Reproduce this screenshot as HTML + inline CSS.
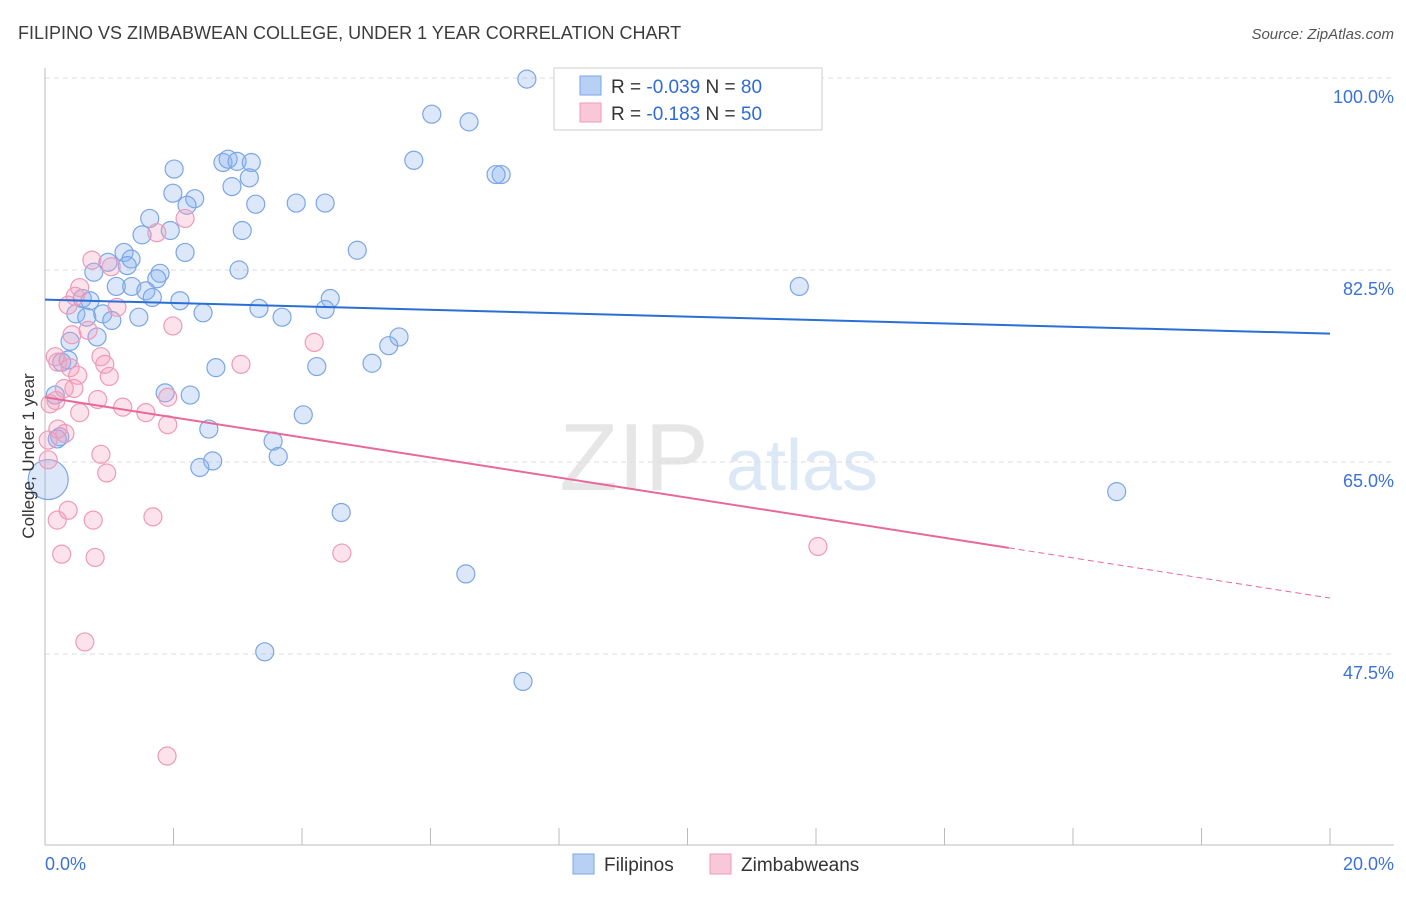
<!DOCTYPE html>
<html><head><meta charset="utf-8"><style>
body{margin:0;background:#fff;font-family:"Liberation Sans",sans-serif}
svg text{font-family:"Liberation Sans",sans-serif}
</style></head><body>
<svg id="chart" width="1406" height="892" viewBox="0 0 1406 892" xmlns="http://www.w3.org/2000/svg">
<text x="18" y="39" font-size="18" fill="#3c3c3c">FILIPINO VS ZIMBABWEAN COLLEGE, UNDER 1 YEAR CORRELATION CHART</text>
<text x="1394" y="39" font-size="15" fill="#555" text-anchor="end" font-style="italic">Source: ZipAtlas.com</text>
<g>
<text x="634" y="490" font-size="96" fill="#e6e6e6" text-anchor="middle" font-family="Liberation Serif,serif">ZIP</text>
<text x="802" y="490" font-size="72" fill="#dce8f6" text-anchor="middle">atlas</text>
</g>
<g id="grid"></g>
<g id="axes"></g>
<g id="marks"></g>
<text transform="translate(34,456) rotate(-90)" font-size="17" fill="#333" text-anchor="middle">College, Under 1 year</text>
<g>
<rect x="554" y="68" width="268" height="62" fill="#fff" stroke="#ccc"/>
<rect x="580" y="76" width="21" height="19" fill="#b8d0f4" stroke="#7aa6e6"/>
<rect x="580" y="103" width="21" height="19" fill="#f9c8d8" stroke="#ee9ab8"/>
<text x="611" y="93" font-size="19" fill="#333">R = <tspan fill="#2f6bd6">-0.039</tspan>   N = <tspan fill="#2f6bd6">80</tspan></text>
<text x="611" y="120" font-size="19" fill="#333">R =  <tspan fill="#2f6bd6">-0.183</tspan>   N = <tspan fill="#2f6bd6">50</tspan></text>
</g>
<g>
<rect x="573" y="854" width="21" height="20" fill="#b8d0f4" stroke="#7aa6e6"/>
<text x="604" y="871" font-size="19" fill="#333">Filipinos</text>
<rect x="710" y="854" width="21" height="20" fill="#f9c8d8" stroke="#ee9ab8"/>
<text x="741" y="871" font-size="19" fill="#333">Zimbabweans</text>
</g>
</svg>
<script>
const filX=[7.50,6.02,6.60,5.74,7.10,7.02,2.01,2.77,2.85,2.99,3.21,3.18,2.91,1.99,2.33,2.21,3.28,3.91,4.36,1.63,1.95,1.51,3.07,4.86,2.18,1.23,0.98,1.34,1.28,0.76,1.79,1.74,3.02,1.11,1.35,1.57,1.67,2.10,0.58,0.70,4.44,4.36,3.33,2.46,3.69,0.48,0.65,0.90,1.04,1.46,0.81,0.39,5.51,5.35,0.36,0.26,5.09,4.23,2.66,1.87,2.26,0.16,4.02,2.55,3.55,3.63,2.61,2.41,0.23,0.19,11.74,16.68,4.61,6.55,3.42,7.44,0.05];
const filY=[99.9,96.7,96.0,92.5,91.2,91.2,91.7,92.3,92.6,92.4,92.3,90.9,90.1,89.5,89.0,88.4,88.5,88.6,88.6,87.2,86.1,85.7,86.1,84.3,84.1,84.1,83.2,83.5,82.9,82.3,82.2,81.7,82.5,81.0,81.0,80.6,80.0,79.7,79.9,79.7,79.9,78.9,79.0,78.6,78.2,78.5,78.2,78.5,77.9,78.2,76.4,76.0,76.4,75.6,74.3,74.1,74.0,73.7,73.6,71.3,71.1,71.1,69.3,68.0,66.9,65.5,65.1,64.5,67.3,67.1,81.0,62.3,60.4,54.8,47.7,45.0,63.4];
const zimX=[2.18,1.74,1.03,0.73,0.54,0.47,0.36,1.12,0.67,0.42,1.99,4.19,0.16,0.20,0.87,0.93,3.05,0.39,0.51,1.00,0.30,0.45,0.17,0.08,0.82,1.21,0.54,1.57,1.91,1.91,0.20,0.31,0.05,0.87,0.96,0.19,0.75,1.68,0.36,0.26,0.78,4.62,12.03,0.62,1.90,0.05];
const zimY=[87.2,85.9,82.8,83.4,80.9,80.1,79.3,79.1,77.0,76.6,77.4,75.9,74.6,74.1,74.6,73.9,73.9,73.6,72.9,72.8,71.7,71.7,70.6,70.3,70.7,70.0,69.5,69.5,70.9,68.4,68.0,67.6,67.0,65.7,64.0,59.7,59.7,60.0,60.6,56.6,56.3,56.7,57.3,48.6,38.2,65.2];
const yTicks=[100,82.5,65,47.5];
const yTickLabels=["100.0%","82.5%","65.0%","47.5%"];
const xTickLabels=["0.0%","20.0%"];
const filTrend=[79.8,76.7];   // y at x=0 and x=20
const zimTrend=[70.9,52.6];   // y at x=0 and x=20
const zimSolidEnd=15.0;

const NS="http://www.w3.org/2000/svg";
const X0=45,X1=1330,Y100=78,PXPER=192/17.5;
function sx(v){return X0+(v/20)*(X1-X0);}
function sy(v){return Y100+(100-v)*PXPER;}
function mk(tag,attrs,parent){const e=document.createElementNS(NS,tag);for(const k in attrs)e.setAttribute(k,attrs[k]);parent.appendChild(e);return e;}
const grid=document.getElementById('grid'),axes=document.getElementById('axes'),marks=document.getElementById('marks');
yTicks.forEach((t,i)=>{
 const l=mk('line',{x1:X0,x2:1394,y1:sy(t),y2:sy(t),stroke:'#ddd','stroke-dasharray':'5,4'},grid);
 
 
 const tx=mk('text',{x:1394,y:sy(t)+25,'font-size':18,fill:'#3a72d8','text-anchor':'end'},axes);
 tx.textContent=yTickLabels[i];
 
 
});
let a=mk('line',{x1:X0,x2:X0,y1:68,y2:845,stroke:'#bbb'},axes);


a=mk('line',{x1:X0,x2:1394,y1:845,y2:845,stroke:'#bbb'},axes);


for(let i=0;i<=10;i++){
 const t=mk('line',{x1:sx(i*2),x2:sx(i*2),y1:828,y2:845,stroke:'#bbb'},axes);
 
 
}
let xl=mk('text',{x:45,y:870,'font-size':18,fill:'#3a72d8'},axes);xl.textContent=xTickLabels[0];


xl=mk('text',{x:1394,y:870,'font-size':18,fill:'#3a72d8','text-anchor':'end'},axes);xl.textContent=xTickLabels[1];



filX.forEach((x,i)=>{
 const big=(i===filX.length-1);
 const c=mk('circle',{cx:sx(x),cy:sy(filY[i]),r:big?20:9,fill:'rgba(140,180,238,0.3)',stroke:'#7aa6e6','stroke-width':1.2},marks);
 
 
});
zimX.forEach((x,i)=>{
 const c=mk('circle',{cx:sx(x),cy:sy(zimY[i]),r:9,fill:'rgba(245,160,190,0.3)',stroke:'#ee9ab8','stroke-width':1.2},marks);
 
 
});
let tl=mk('line',{x1:sx(0),y1:sy(filTrend[0]),x2:sx(20),y2:sy(filTrend[1]),stroke:'#2a6fd6','stroke-width':2},marks);


const zAt=v=>zimTrend[0]+(zimTrend[1]-zimTrend[0])*v/20;
tl=mk('line',{x1:sx(0),y1:sy(zimTrend[0]),x2:sx(zimSolidEnd),y2:sy(zAt(zimSolidEnd)),stroke:'#e8689a','stroke-width':2},marks);


tl=mk('line',{x1:sx(zimSolidEnd),y1:sy(zAt(zimSolidEnd)),x2:sx(20),y2:sy(zimTrend[1]),stroke:'#e8689a','stroke-width':1,'stroke-dasharray':'6,4'},marks);


</script>
</body></html>
